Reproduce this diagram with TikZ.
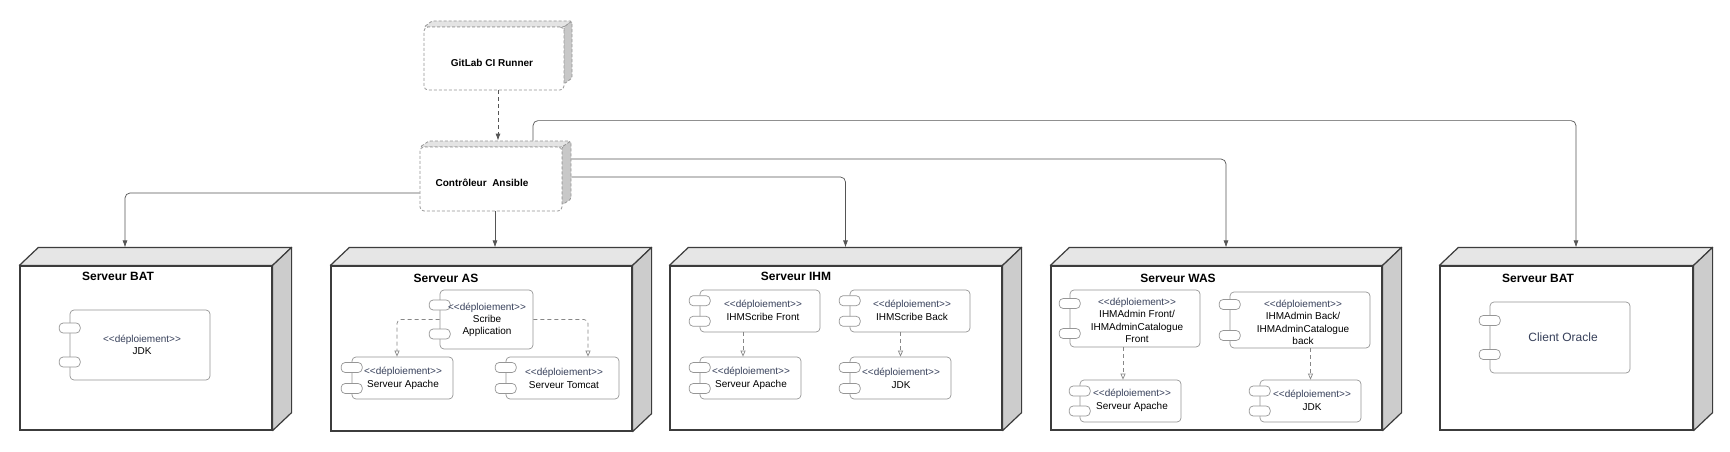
\documentclass[tikz,border=0pt]{standalone}
\usepackage{fontspec}
\setmainfont{Liberation Sans}
\usetikzlibrary{arrows.meta,calc}
\definecolor{stereo}{RGB}{55,64,90}
\definecolor{srvline}{RGB}{60,60,60}
\definecolor{topface}{RGB}{230,230,230}
\definecolor{sideface}{RGB}{204,204,204}
\definecolor{citop}{RGB}{228,228,228}
\definecolor{ciside}{RGB}{200,200,200}
\definecolor{compline}{RGB}{150,150,150}
\definecolor{dashline}{RGB}{135,135,135}
\definecolor{ciline}{RGB}{150,150,150}
\definecolor{connline}{RGB}{85,85,85}
\newcommand\depl{\textcolor{stereo}{<\kern0pt<déploiement>\kern0pt>}}
\tikzset{
 srvfront/.style={draw=srvline, line width=1.2pt, fill=white, inner sep=0},
 srvface/.style={draw=srvline, line width=1.2pt, line join=round},
 srvtitle/.style={font=\bfseries\fontsize{12}{14}\selectfont, inner sep=0},
 compbox/.style={draw=compline, line width=0.7pt, rounded corners=4pt, fill=white, inner sep=0},
 port/.style={draw=compline, line width=0.7pt, rounded corners=4pt, fill=white, minimum width=21pt, minimum height=10pt, inner sep=0},
 ctext/.style={font=\fontsize{10}{12.3}\selectfont, align=center, inner sep=0},
 ci/.style={draw=ciline, dash pattern=on 3pt off 2pt, line width=0.8pt, rounded corners=4pt},
 ciface/.style={draw=ciline, dash pattern=on 3pt off 2pt, line width=0.8pt, rounded corners=1.5pt, line join=round},
 citext/.style={font=\bfseries\fontsize{10}{12}\selectfont, inner sep=0},
 conn/.style={draw=connline, line width=0.7pt, rounded corners=5pt, -{Latex[length=7pt,width=5pt]}},
 cidep/.style={draw=connline, line width=0.8pt, dash pattern=on 4pt off 3pt, -{Latex[length=7pt,width=5pt]}},
 dep/.style={draw=dashline, line width=0.7pt, dash pattern=on 4pt off 3pt, rounded corners=4pt, -{Triangle[open,length=6pt,width=5pt,fill=white]}},
}
\newcommand\serveur[8]{%
 \node[srvfront, minimum width={#4-#2}, minimum height={#5-#3}] (#1) at ({(#2+#4)/2},{(#3+#5)/2}) {};
 \draw[srvface, fill=topface] (#1.north west) -- ++(19,-18) -- ([shift={(19,-18)}]#1.north east) -- (#1.north east) -- cycle;
 \draw[srvface, fill=sideface] (#1.north east) -- ++(19,-18) -- ([shift={(19,-18)}]#1.south east) -- (#1.south east) -- cycle;
 \node[srvtitle] (#1-title) at (#6,#7) {#8};
 \coordinate (#1-top) at ([shift={(9.5,-18)}]#1.north);
}
\newcommand\comp[6]{%
 \node[compbox, minimum width={#4-#2}, minimum height={#5-#3}] (#1) at ({(#2+#4)/2},{(#3+#5)/2}) {};
 \node[port] (#1-p1) at ([shift={(0,-#6)}]#1.west) {};
 \node[port] (#1-p2) at ([shift={(0,#6)}]#1.west) {};
}
\begin{document}
\begin{tikzpicture}[x=1pt,y=-1pt]
\fill[white] (0,0) rectangle (1730,452);
\useasboundingbox (0,0) rectangle (1730,452);

% GitLab CI Runner
\coordinate (gl-c) at (494,58.5);
\draw[ciface, fill=citop] ([shift={(-70,-31.5)}]gl-c) -- ++(8,-6) -- ++(140,0) -- ++(-8,6) -- cycle;
\draw[ciface, fill=ciside] ([shift={(70,-31.5)}]gl-c) -- ++(8,-6) -- ++(0,57) -- ++(-8,6) -- cycle;
\node[ci, fill=white, minimum width=140, minimum height=63] (gitlab) at (gl-c) {};
\node[citext] (gitlab-t) at (492,63) {GitLab CI Runner};

% Controleur Ansible
\coordinate (an-c) at (491,179);
\draw[ciface, fill=citop] ([shift={(-71,-32)}]an-c) -- ++(9,-6) -- ++(142,0) -- ++(-9,6) -- cycle;
\draw[ciface, fill=ciside] ([shift={(71,-32)}]an-c) -- ++(9,-6) -- ++(0,58) -- ++(-9,6) -- cycle;
\node[ci, fill=white, minimum width=142, minimum height=64] (ansible) at (an-c) {};
\node[citext] (ansible-t) at (482,183) {Contrôleur\ \ Ansible};

\draw[cidep] ([shift={(4,0)}]gitlab.south) -- ([shift={(7,-6)}]ansible.north);

% Servers
\serveur{bat1}{20}{266}{272}{430}{118}{276}{Serveur BAT}
\serveur{as}{331}{266}{632}{431}{446}{278}{Serveur AS}
\serveur{ihm}{670}{266}{1002}{430}{796}{276}{Serveur IHM}
\serveur{was}{1051}{266}{1382}{430}{1178}{278}{Serveur WAS}
\serveur{bat2}{1440}{266}{1693}{430}{1538}{278}{Serveur BAT}

% Connectors from Ansible
\draw[conn] ([shift={(0,14)}]ansible.west) -| ([shift={(-30.5,0)}]bat1-top);
\draw[conn] ([shift={(4,0)}]ansible.south) -- ([shift={(4,0)}]as-top);
\draw[conn] ([shift={(9,-2)}]ansible.east) -| (ihm-top);
\draw[conn] ([shift={(9,-20)}]ansible.east) -| (was-top);
\draw[conn] ([shift={(42,-6)}]ansible.north) -- ++(0,-20) -| (bat2-top);

% Serveur BAT 1
\comp{jdkA}{70}{310}{210}{380}{17}
\node[ctext] (jdkA-t) at (142,345) {\depl\\JDK};

% Serveur AS
\comp{scribe}{440}{290}{533}{349}{14.5}
\node[ctext] (scribe-t) at (487,320) {\depl\\Scribe\\Application};
\comp{asapache}{352}{357}{453}{399}{10.5}
\node[ctext] (asapache-t) at (403,378.5) {\depl\\Serveur Apache};
\comp{tomcat}{506}{357}{619}{399}{10.5}
\node[ctext] (tomcat-t) at (564,378.5) {\depl\\Serveur Tomcat};
\draw[dep] (scribe.west) -| ([shift={(-5.5,0)}]asapache.north);
\draw[dep] (scribe.east) -| ([shift={(25.5,0)}]tomcat.north);

% Serveur IHM
\comp{ihmfront}{700}{290}{820}{332}{10.3}
\node[ctext] (ihmfront-t) at (763,310.5) {\depl\\IHMScribe Front};
\comp{ihmback}{850}{290}{970}{332}{10.3}
\node[ctext] (ihmback-t) at (912,310.5) {\depl\\IHMScribe Back};
\comp{ihmapache}{700}{357}{801}{399}{10.5}
\node[ctext] (ihmapache-t) at (751,378.5) {\depl\\Serveur Apache};
\comp{ihmjdk}{850}{357}{951}{399}{10.5}
\node[ctext] (ihmjdk-t) at (901,378.5) {\depl\\JDK};
\coordinate (d1e) at ([shift={(-7.5,0)}]ihmapache.north);
\draw[dep] (d1e |- ihmfront.south) -- (d1e);
\draw[dep] (ihmjdk.north |- ihmback.south) -- (ihmjdk.north);

% Serveur WAS
\comp{wasfront}{1070}{290}{1200}{347}{15}
\node[ctext] (wasfront-t) at (1137,320.5) {\depl\\IHMAdmin Front/\\IHMAdminCatalogue\\Front};
\comp{wasback}{1230}{292}{1370}{348}{15.5}
\node[ctext] (wasback-t) at (1303,322.5) {\depl\\IHMAdmin Back/\\IHMAdminCatalogue\\back};
\comp{wasapache}{1080}{380}{1181}{422}{10}
\node[ctext] (wasapache-t) at (1132,400.5) {\depl\\Serveur Apache};
\comp{wasjdk}{1260}{380}{1361}{422}{10}
\node[ctext] (wasjdk-t) at (1312,400.5) {\depl\\JDK};
\coordinate (d2e) at ([shift={(-7.5,0)}]wasapache.north);
\draw[dep] (d2e |- wasfront.south) -- (d2e);
\draw[dep] (wasjdk.north |- wasback.south) -- (wasjdk.north);

% Serveur BAT 2
\comp{oracle}{1490}{302}{1630}{373}{17}
\node[ctext, font=\fontsize{12}{14}\selectfont, text=stereo] (oracle-t) at (1563,337.5) {Client Oracle};
\end{tikzpicture}
\end{document}
